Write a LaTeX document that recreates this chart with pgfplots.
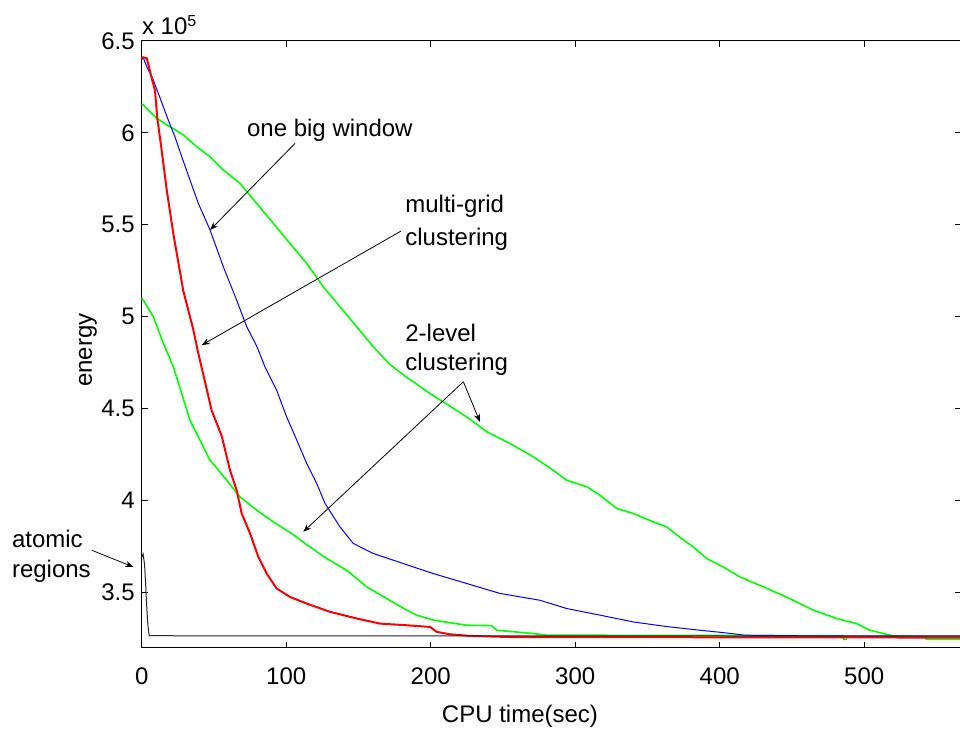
\documentclass[border=0pt]{standalone}
\usepackage{fontspec}
\setmainfont{Liberation Sans}
\usepackage{pgfplots}
\pgfplotsset{compat=1.18}
\usetikzlibrary{arrows.meta}

\begin{document}
\begin{tikzpicture}[font=\fontsize{12}{14}\selectfont]
\begin{axis}[
  at={(0,0)}, anchor=south west,
  scale only axis,
  width=409.65pt, height=303.45pt,
  xmin=0, xmax=567, ymin=3.2, ymax=6.5,
  xtick={0,100,...,500},
  ytick={3.5,4,4.5,5,5.5,6,6.5},
  tick align=inside, tick pos=both,
  major tick length=3pt,
  axis line style={line width=0.5pt},
  every tick/.style={black, line width=0.5pt},
  /pgf/number format/assume math mode=true,
  /pgf/number format/fixed,
  xticklabel style={anchor=center, yshift=-14.15pt},
  xlabel={CPU time(sec)},
  xlabel style={at={(rel axis cs:0.4617,0)}, anchor=center, yshift=-34.15pt},
  ylabel={energy},
  % label is rotated, so its local y points to the left
  ylabel style={at={(rel axis cs:0,0.4905)}, anchor=center, yshift=26.85pt},
  clip=false,
]
% 2-level clustering, lower run
\addplot[color={rgb,255:red,0;green,255;blue,0}, line width=0.8pt] coordinates {
(0,5.10) (1.1,5.09) (8,5.0) (15,4.855) (21.9,4.727) (27.7,4.582) (33.4,4.437)
(40.3,4.329) (47.3,4.22) (58.8,4.111) (68,4.02) (79.6,3.948) (91.1,3.884)
(104.9,3.815) (114.2,3.76) (128,3.685) (141.9,3.621) (155.7,3.531)
(169.6,3.467) (183.4,3.404) (190.3,3.377) (201.8,3.35) (224.9,3.322) (242.2,3.32)
(245.7,3.295) (271,3.277) (280.3,3.268) (485,3.265) (486,3.245) (488,3.245)
};
% 2-level clustering, upper run
\addplot[color={rgb,255:red,0;green,255;blue,0}, line width=0.8pt] coordinates {
(0,6.155) (1.1,6.151) (10.4,6.078) (19.6,6.033) (28.8,5.988) (38.1,5.924)
(47.3,5.87) (56.5,5.797) (68,5.725) (79.6,5.616) (91.1,5.507) (102.6,5.398)
(114.2,5.29) (125.7,5.162) (137.2,5.054) (148.8,4.945) (160.3,4.836) (171.8,4.74)
(183.4,4.67) (188,4.646) (199.5,4.582) (208.7,4.537) (224.9,4.455) (238.8,4.374)
(254.9,4.31) (271,4.238) (284.8,4.165) (294.1,4.111) (308,4.075) (317.2,4.029)
(328.7,3.957) (340.2,3.93) (354.1,3.884) (363.3,3.857) (372.5,3.80) (381.7,3.748)
(391,3.685) (402.5,3.639) (414,3.585) (430.2,3.531) (448.6,3.467) (464.8,3.404)
(481,3.359) (494.8,3.331) (504,3.295) (513.2,3.277) (520.1,3.264) (542,3.258)
(543.2,3.245) (567,3.245)
};
% one big window
\addplot[color={rgb,255:red,0;green,0;blue,255}, line width=0.5pt] coordinates {
(0,6.40) (1,6.41) (3.5,6.359) (8,6.287) (11.5,6.214) (18.4,6.069) (23,5.978)
(27.7,5.87) (33.4,5.743) (39.2,5.616) (47.3,5.471) (56.5,5.271) (65.7,5.09)
(72.7,4.945) (79.6,4.84) (85.3,4.727) (93.4,4.6) (100.3,4.455) (107.3,4.329)
(114.2,4.202) (121.1,4.093) (126.9,3.984) (137.2,3.857) (146.4,3.767) (160.3,3.712)
(174.1,3.676) (185.7,3.645) (201.8,3.603) (224.9,3.549) (248,3.495) (275.6,3.458)
(294.1,3.413) (317.2,3.377) (340.2,3.34) (363.3,3.315) (386.4,3.295) (402.5,3.282)
(417.5,3.268) (464.8,3.264) (567,3.264)
};
% multi-grid clustering
\addplot[color={rgb,255:red,255;green,0;blue,0}, line width=1pt] coordinates {
(0,6.40) (1,6.41) (3.5,6.405) (6.2,6.32) (9.2,6.23) (10.8,6.08) (13.8,5.906)
(17.3,5.69) (21.9,5.45) (28.8,5.14) (35.7,4.93) (39.2,4.80) (43.8,4.646)
(48.4,4.49) (55.4,4.35) (61.1,4.165) (65.7,4.057) (69.2,3.93) (75,3.821)
(80.7,3.694) (86.5,3.603) (93.4,3.522) (102.6,3.476) (114.2,3.44) (130.3,3.395)
(148.8,3.359) (164.9,3.331) (183.4,3.322) (199.5,3.313) (204.2,3.286) (213.4,3.273)
(227.2,3.264) (254.9,3.258) (567,3.255)
};
% atomic regions
\addplot[color=black!85, line width=0.5pt] coordinates {
(0,3.69) (1,3.71) (2,3.65) (2.7,3.55) (3.5,3.42) (4.3,3.32) (5.2,3.265) (567,3.263)
};

\node[anchor=base west, inner sep=0] at (rel axis cs:0,1) [yshift=2.9pt] {x 10\textsuperscript{5}};

\node[anchor=west, inner sep=0] at (axis cs:72.7,6.015) {one big window};
\node[anchor=west, inner sep=0] at (axis cs:182.2,5.601) {multi-grid};
\node[anchor=west, inner sep=0] at (axis cs:182.2,5.422) {clustering};
\node[anchor=west, inner sep=0] at (axis cs:182.2,4.913) {2-level};
\node[anchor=west, inner sep=0] at (axis cs:182.2,4.742) {clustering};
\node[anchor=west, inner sep=0] at (axis cs:-90,3.793) {atomic};
\node[anchor=west, inner sep=0] at (axis cs:-90,3.616) {regions};

\begin{scope}[line width=0.4pt, -{Stealth[length=4pt,width=3pt]}]
\draw (axis cs:106.1,5.942) -- (axis cs:47.3,5.471);
\draw (axis cs:179.4,5.465) -- (axis cs:41.5,4.845);
\draw (axis cs:222.6,4.646) -- (axis cs:234.1,4.428);
\draw (axis cs:222.6,4.646) -- (axis cs:111.8,3.830);
\draw (axis cs:-34.6,3.730) -- (axis cs:-5.8,3.639);
\end{scope}
\end{axis}
\pgfresetboundingbox
\useasboundingbox (-70.85pt,-42.65pt) rectangle (409.15pt,323.85pt);
\end{tikzpicture}
\end{document}
